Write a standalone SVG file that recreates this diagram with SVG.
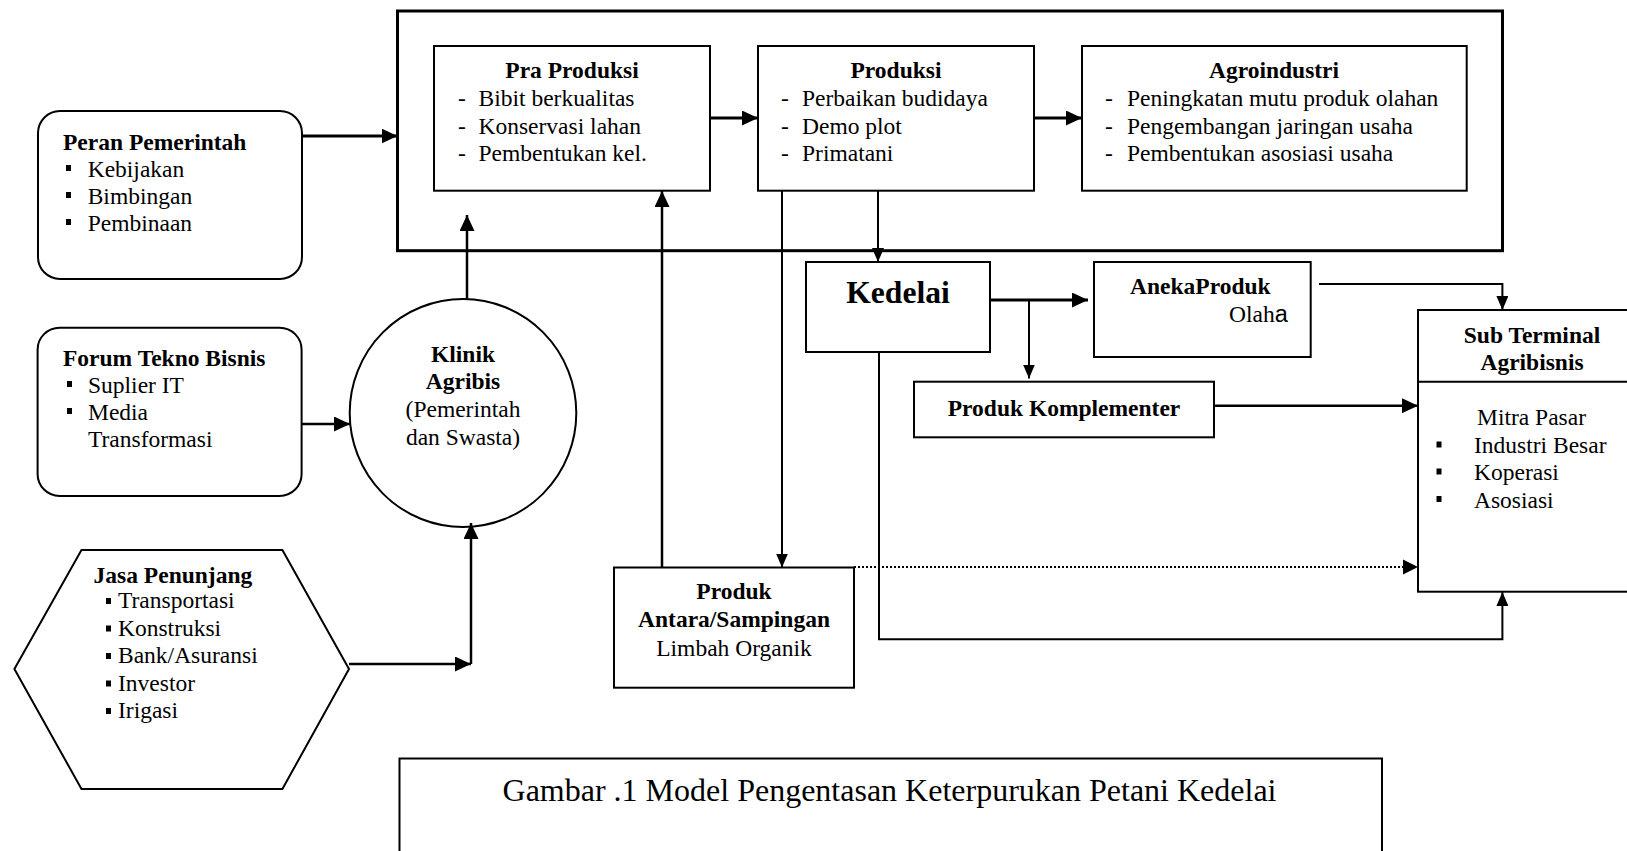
<svg xmlns="http://www.w3.org/2000/svg" width="1627" height="851" viewBox="0 0 1627 851">
<style>
text{font-family:"Liberation Serif","Times New Roman",serif;font-size:23.5px;fill:#000}
.b{font-weight:bold}
.c{text-anchor:middle}
.box{fill:#fff;stroke:#000;stroke-width:2}
.thick{fill:none;stroke:#000;stroke-width:3}
.ln{fill:none;stroke:#000;stroke-width:2.5}
.thin{fill:none;stroke:#000;stroke-width:2}
.dot{fill:none;stroke:#000;stroke-width:2;stroke-dasharray:2 2}
</style>
<defs>
<marker id="ah" markerUnits="userSpaceOnUse" markerWidth="16" markerHeight="15" refX="16" refY="7.5" orient="auto"><path d="M0,0 L16,7.5 L0,15 z" fill="#000"/></marker>
<marker id="as" markerUnits="userSpaceOnUse" markerWidth="14" markerHeight="12" refX="14" refY="6" orient="auto"><path d="M0,0 L14,6 L0,12 z" fill="#000"/></marker>
</defs>

<g id="outer"><rect x="397.5" y="11" width="1105" height="239.7" class="thick"/></g>

<g id="pra">
<rect x="434" y="46" width="276" height="144.7" class="box"/>
<text x="572" y="78" class="b c">Pra Produksi</text>
<text x="458" y="106">-</text><text x="478.5" y="106">Bibit berkualitas</text>
<text x="458" y="133.5">-</text><text x="478.5" y="133.5">Konservasi lahan</text>
<text x="458" y="161">-</text><text x="478.5" y="161">Pembentukan kel.</text>
</g>

<g id="produksi">
<rect x="758" y="46" width="276" height="144.7" class="box"/>
<text x="896" y="78" class="b c">Produksi</text>
<text x="781" y="106">-</text><text x="802" y="106">Perbaikan budidaya</text>
<text x="781" y="133.5">-</text><text x="802" y="133.5">Demo plot</text>
<text x="781" y="161">-</text><text x="802" y="161">Primatani</text>
</g>

<g id="agro">
<rect x="1082" y="46" width="384.7" height="144.7" class="box"/>
<text x="1274" y="78" class="b c">Agroindustri</text>
<text x="1105" y="106">-</text><text x="1127" y="106">Peningkatan mutu produk olahan</text>
<text x="1105" y="133.5">-</text><text x="1127" y="133.5">Pengembangan jaringan usaha</text>
<text x="1105" y="161">-</text><text x="1127" y="161">Pembentukan asosiasi usaha</text>
</g>

<g id="peran">
<rect x="38" y="111" width="264" height="168" rx="22" class="box"/>
<text x="63" y="150" class="b">Peran Pemerintah</text>
<rect x="66" y="165" width="5" height="6"/><text x="87.7" y="177">Kebijakan</text>
<rect x="66" y="192" width="5" height="6"/><text x="87.7" y="204">Bimbingan</text>
<rect x="66" y="219" width="5" height="6"/><text x="87.7" y="231">Pembinaan</text>
</g>

<g id="forum">
<rect x="37.6" y="327.7" width="264" height="168.3" rx="22" class="box"/>
<text x="63" y="366" class="b">Forum Tekno Bisnis</text>
<rect x="67" y="381" width="5" height="6"/><text x="88" y="392.7">Suplier IT</text>
<rect x="67" y="408" width="5" height="6"/><text x="88" y="420">Media</text>
<text x="88" y="446.7">Transformasi</text>
</g>

<g id="klinik">
<ellipse cx="463" cy="413" rx="113.3" ry="114" class="box"/>
<text x="463" y="362" class="b c">Klinik</text>
<text x="463" y="389" class="b c">Agribis</text>
<text x="463" y="417" class="c">(Pemerintah</text>
<text x="463" y="445" class="c">dan Swasta)</text>
</g>

<g id="jasa">
<polygon points="81.5,550 282.4,550 349,669 282.4,789 81.5,789 14.4,669" class="box"/>
<text x="93.6" y="582.7" class="b">Jasa Penunjang</text>
<rect x="106" y="598" width="5" height="6"/><text x="118" y="608">Transportasi</text>
<rect x="106" y="625.5" width="5" height="6"/><text x="118" y="635.5">Konstruksi</text>
<rect x="106" y="653" width="5" height="6"/><text x="118" y="663">Bank/Asuransi</text>
<rect x="106" y="680.5" width="5" height="6"/><text x="118" y="690.5">Investor</text>
<rect x="106" y="708" width="5" height="6"/><text x="118" y="718">Irigasi</text>
</g>

<g id="kedelai">
<rect x="806" y="262" width="184" height="90" class="box"/>
<text x="898" y="303" class="b c" style="font-size:31.6px">Kedelai</text>
</g>

<g id="aneka">
<rect x="1094" y="262" width="216.7" height="95" class="box"/>
<text x="1130" y="294" class="b">AnekaProduk</text>
<text x="1229" y="321.7">Olah<tspan style="font-family:'Liberation Sans',Arial,sans-serif">a</tspan></text>
</g>

<g id="komplementer">
<rect x="914" y="381.7" width="300" height="55.6" class="box"/>
<text x="1064" y="415.7" class="b c">Produk Komplementer</text>
</g>

<g id="antara">
<rect x="614" y="567.5" width="240" height="120.2" class="box"/>
<text x="734" y="599" class="b c">Produk</text>
<text x="734" y="627" class="b c">Antara/Sampingan</text>
<text x="734" y="656" class="c">Limbah Organik</text>
</g>

<g id="subterminal">
<rect x="1418" y="310" width="230" height="281.7" class="box"/>
<line x1="1418" y1="381.7" x2="1648" y2="381.7" class="thin"/>
<text x="1532" y="342.7" class="b c">Sub Terminal</text>
<text x="1532" y="369.5" class="b c">Agribisnis</text>
<text x="1477" y="425">Mitra Pasar</text>
<rect x="1436.5" y="441.5" width="5" height="6"/><text x="1474" y="453.3">Industri Besar</text>
<rect x="1436.5" y="468.5" width="5" height="6"/><text x="1474" y="480">Koperasi</text>
<rect x="1436.5" y="496" width="5" height="6"/><text x="1474" y="508.3">Asosiasi</text>
</g>

<g id="caption">
<rect x="399.5" y="758.5" width="982.5" height="110" class="box"/>
<text x="889.5" y="801" class="c" style="font-size:32px">Gambar .1 Model Pengentasan Keterpurukan Petani Kedelai</text>
</g>

<g id="connectors">
<line x1="302" y1="136" x2="397.5" y2="136" class="thick" marker-end="url(#ah)"/>
<line x1="710" y1="118" x2="758" y2="118" class="thick" marker-end="url(#ah)"/>
<line x1="1034" y1="118" x2="1082" y2="118" class="thick" marker-end="url(#ah)"/>
<line x1="878" y1="190.7" x2="878" y2="262" class="thin" marker-end="url(#as)"/>
<line x1="782" y1="190.7" x2="782" y2="567.5" class="thin" marker-end="url(#as)"/>
<line x1="662" y1="567.5" x2="662" y2="191" class="ln" marker-end="url(#ah)"/>
<line x1="467" y1="299.5" x2="467" y2="215" class="ln" marker-end="url(#ah)"/>
<line x1="302" y1="424" x2="350" y2="424" class="ln" marker-end="url(#ah)"/>
<line x1="349" y1="664" x2="471" y2="664" class="ln" marker-end="url(#ah)"/>
<line x1="471" y1="664" x2="471" y2="523" class="ln" marker-end="url(#ah)"/>
<line x1="990" y1="300" x2="1088" y2="300" class="thick" marker-end="url(#ah)"/>
<line x1="1029" y1="300" x2="1029" y2="378.5" class="thin" marker-end="url(#as)"/>
<polyline points="1319,284 1502.4,284 1502.4,310" class="thin" marker-end="url(#as)"/>
<line x1="1214" y1="405.7" x2="1418" y2="405.7" class="ln" marker-end="url(#ah)"/>
<line x1="854" y1="567" x2="1418" y2="567" class="dot"/>
<path d="M1403,559.5 L1418,567 L1403,574.5 z" fill="#000"/>
<polyline points="879,352 879,639.3 1502.4,639.3 1502.4,592" class="thin" marker-end="url(#as)"/>
</g>
</svg>
